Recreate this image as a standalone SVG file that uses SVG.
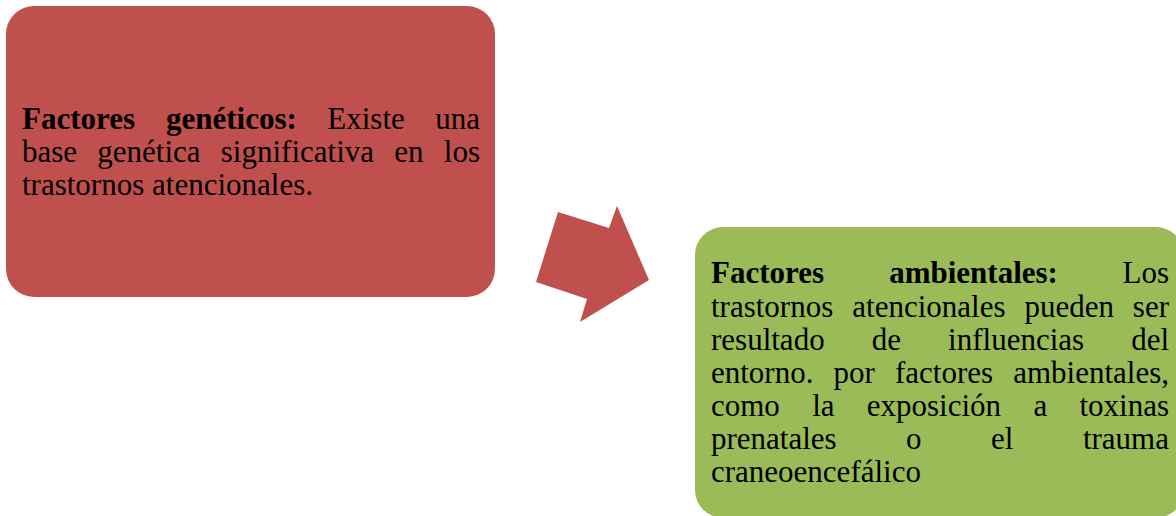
<svg xmlns="http://www.w3.org/2000/svg" width="1176" height="516" viewBox="0 0 1176 516">
<style>
.t{font-family:"Liberation Serif","Times New Roman",serif;font-size:31px;fill:#000}
.b{font-weight:bold}
.e{text-anchor:end}
</style>
<rect width="1176" height="516" fill="#ffffff"/>
<g id="node-geneticos">
<rect x="6" y="6" width="489" height="291" rx="28" ry="28" fill="#C0504D"/>
<text class="t b" x="22" y="128.5">Factores</text>
<text class="t b" x="166" y="128.5">genéticos:</text>
<text class="t" x="327.3" y="128.5">Existe</text>
<text class="t e" x="480" y="128.5">una</text>
<text class="t" x="22" y="161.7">base</text>
<text class="t" x="97.3" y="161.7">genética</text>
<text class="t" x="220.8" y="161.7">significativa</text>
<text class="t" x="394.2" y="161.7">en</text>
<text class="t e" x="480" y="161.7">los</text>
<text class="t" x="22" y="195">trastornos atencionales.</text>
</g>
<g id="connectors">
<polygon points="558,212 609,228 617,206 649,280 580,322 587,299 536,282" fill="#C0504D"/>
</g>
<g id="node-ambientales">
<rect x="695" y="227" width="489" height="291" rx="28" ry="28" fill="#9BBB59"/>
<text class="t b" x="711" y="283.3">Factores</text>
<text class="t b" x="889.2" y="283.3">ambientales:</text>
<text class="t e" x="1169" y="283.3">Los</text>
<text class="t" x="711" y="316.5">trastornos</text>
<text class="t" x="852.3" y="316.5">atencionales</text>
<text class="t" x="1024.5" y="316.5">pueden</text>
<text class="t e" x="1169" y="316.5">ser</text>
<text class="t" x="711" y="349.6">resultado</text>
<text class="t" x="871.7" y="349.6">de</text>
<text class="t" x="948.1" y="349.6">influencias</text>
<text class="t e" x="1169" y="349.6">del</text>
<text class="t" x="711" y="382.8">entorno.</text>
<text class="t" x="833.6" y="382.8">por</text>
<text class="t" x="895" y="382.8">factores</text>
<text class="t e" x="1169" y="382.8">ambientales,</text>
<text class="t" x="711" y="416">como</text>
<text class="t" x="812.2" y="416">la</text>
<text class="t" x="866.8" y="416">exposición</text>
<text class="t" x="1033.4" y="416">a</text>
<text class="t e" x="1169" y="416">toxinas</text>
<text class="t" x="711" y="449">prenatales</text>
<text class="t" x="906.1" y="449">o</text>
<text class="t" x="991" y="449">el</text>
<text class="t e" x="1169" y="449">trauma</text>
<text class="t" x="711" y="482">craneoencefálico</text>
</g>
</svg>
